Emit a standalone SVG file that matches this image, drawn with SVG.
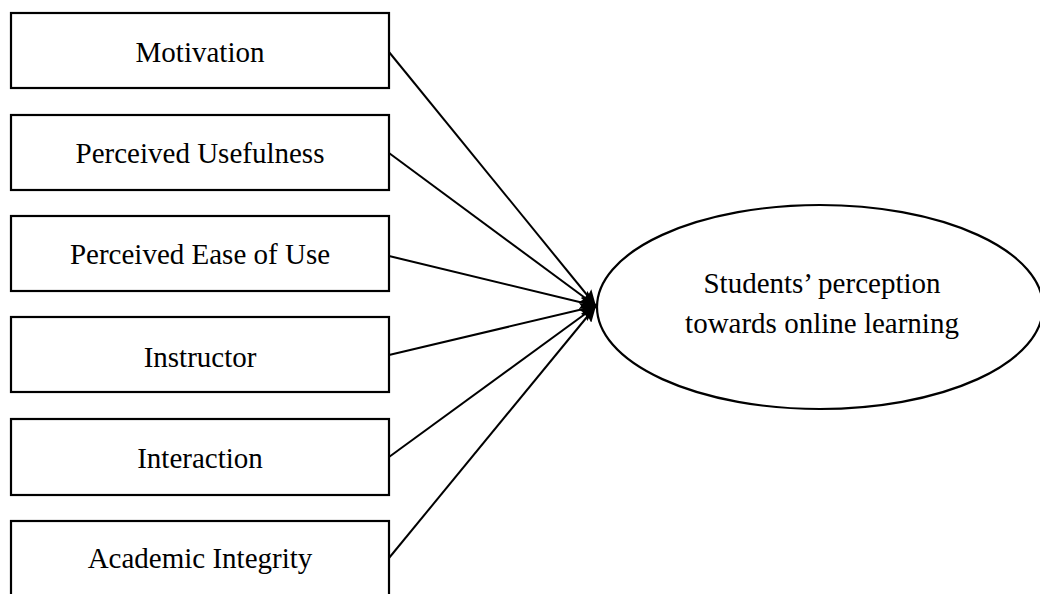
<svg xmlns="http://www.w3.org/2000/svg" width="1040" height="594" viewBox="0 0 1040 594">
  <style>
    .box { fill: #ffffff; stroke: #000000; stroke-width: 2.2; }
    .oval { fill: #ffffff; stroke: #000000; stroke-width: 2.2; }
    .label { font-family: "Liberation Serif", "Times New Roman", serif; font-size: 29px; fill: #000000; text-anchor: middle; }
    .link { stroke: #000000; stroke-width: 2; fill: none; marker-end: url(#head); }
  </style>
  <defs>
    <marker id="head" markerUnits="userSpaceOnUse" markerWidth="18" markerHeight="14" refX="16" refY="7" orient="auto">
      <path d="M0,0 L16,7 L0,14 L3,7 z" fill="#000000"/>
    </marker>
  </defs>
  <rect width="1040" height="594" fill="#ffffff"/>

  <g id="motivation">
    <rect class="box" x="11" y="13" width="378" height="75"/>
    <text class="label" x="200" y="62">Motivation</text>
  </g>
  <g id="perceived-usefulness">
    <rect class="box" x="11" y="115" width="378" height="75"/>
    <text class="label" x="200" y="163">Perceived Usefulness</text>
  </g>
  <g id="perceived-ease-of-use">
    <rect class="box" x="11" y="216" width="378" height="75"/>
    <text class="label" x="200" y="264">Perceived Ease of Use</text>
  </g>
  <g id="instructor">
    <rect class="box" x="11" y="317" width="378" height="75"/>
    <text class="label" x="200" y="367">Instructor</text>
  </g>
  <g id="interaction">
    <rect class="box" x="11" y="419" width="378" height="76"/>
    <text class="label" x="200" y="468">Interaction</text>
  </g>
  <g id="academic-integrity">
    <rect class="box" x="11" y="521" width="378" height="90"/>
    <text class="label" x="200" y="568">Academic Integrity</text>
  </g>

  <g id="students-perception">
    <ellipse class="oval" cx="820" cy="307" rx="223" ry="102"/>
    <text class="label" x="822" y="293">Students’ perception</text>
    <text class="label" x="822" y="333">towards online learning</text>
  </g>

  <g id="connectors">
    <line class="link" x1="389" y1="52" x2="596" y2="306"/>
    <line class="link" x1="389" y1="153" x2="596" y2="306"/>
    <line class="link" x1="389" y1="256" x2="596" y2="306"/>
    <line class="link" x1="389" y1="355" x2="596" y2="306"/>
    <line class="link" x1="389" y1="457" x2="596" y2="306"/>
    <line class="link" x1="389" y1="558" x2="596" y2="306"/>
  </g>
</svg>
